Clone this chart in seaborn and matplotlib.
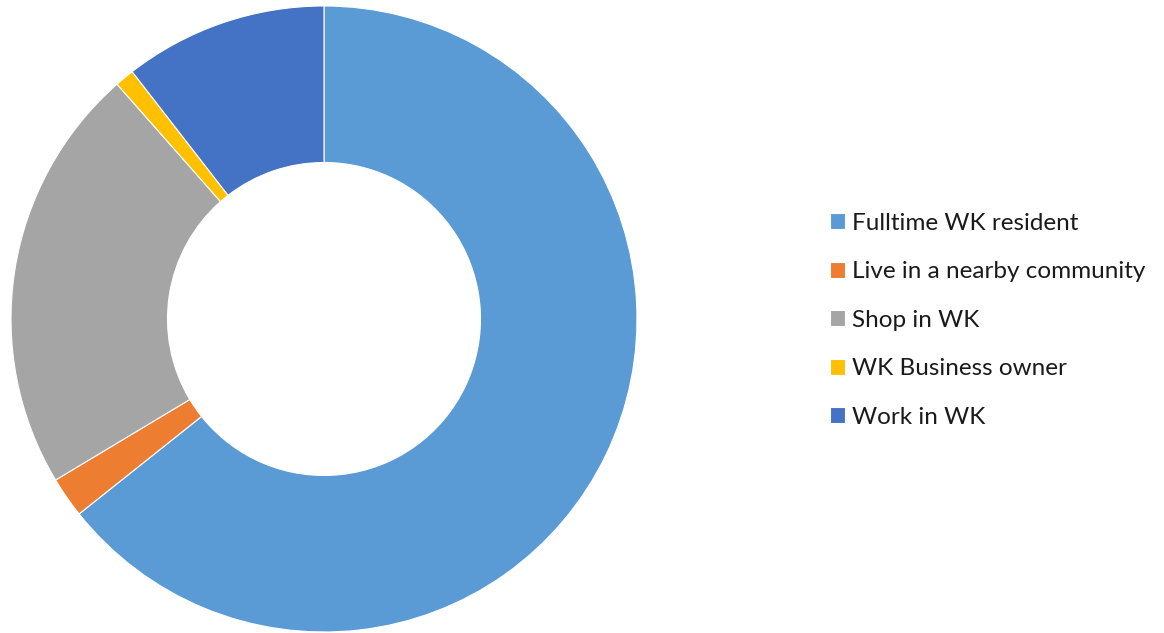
import matplotlib
matplotlib.use("Agg")
import matplotlib.pyplot as plt
import seaborn as sns

# Respondent groups (share of responses, %)
categories = [
    "Fulltime WK resident",
    "Live in a nearby community",
    "Shop in WK",
    "WK Business owner",
    "Work in WK",
]
shares = [64.3, 2.1, 22.1, 1.0, 10.5]
colors = ["#5B9BD5", "#ED7D31", "#A5A5A5", "#FFC000", "#4472C4"]

sns.set_theme(style="white")
plt.rcParams["font.family"] = ["Lato", "DejaVu Sans"]

fig = plt.figure(figsize=(11.64, 6.33), dpi=100)
ax = fig.add_axes([0.00945, 0.00158, 0.5378, 0.989])

wedges, _ = ax.pie(
    shares,
    colors=colors,
    startangle=90,
    counterclock=False,
    radius=1.0,
    wedgeprops=dict(width=0.5, edgecolor="white", linewidth=0.8),
)
ax.set_aspect("equal")
ax.set_xlim(-1, 1)
ax.set_ylim(-1, 1)
ax.axis("off")

leg = fig.legend(
    wedges,
    categories,
    loc="center left",
    bbox_to_anchor=(0.6942, 0.494),
    frameon=False,
    fontsize=17.5,
    handlelength=0.62,
    handleheight=0.62,
    handletextpad=0.27,
    labelspacing=1.13,
)
for t in leg.get_texts():
    t.set_color("#1a1a1a")

fig.savefig("out.png", dpi=100, facecolor="white")
